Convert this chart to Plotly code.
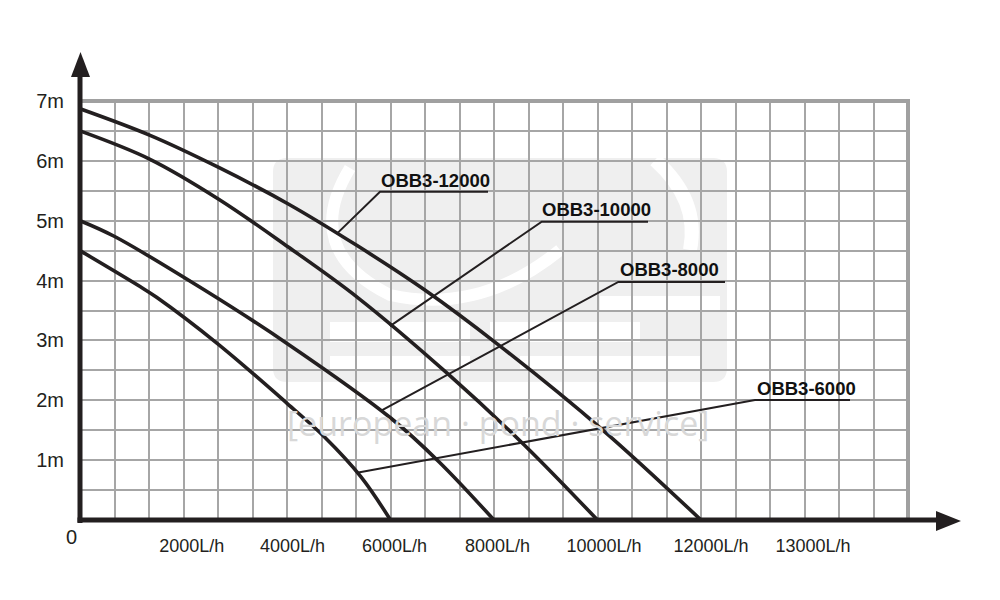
import plotly.graph_objects as go

# ---------------- data ----------------
flow_6000 = [0, 1160, 1480, 2650, 4000, 4720, 5430, 6000]
head_6000 = [4.50, 3.90, 3.72, 2.95, 1.95, 1.39, 0.72, 0.0]

flow_8000 = [0, 660, 2390, 4000, 6010, 6940, 8000]
head_8000 = [5.00, 4.74, 3.85, 2.95, 1.70, 0.97, 0.0]

flow_10000 = [0, 1343, 2680, 4025, 5360, 7110, 8590, 10000]
head_10000 = [6.50, 6.03, 5.36, 4.56, 3.72, 2.44, 1.25, 0.0]

flow_12000 = [0, 1343, 2680, 4025, 5362, 6650, 8080, 10080, 12000]
head_12000 = [6.87, 6.43, 5.89, 5.28, 4.58, 3.85, 2.93, 1.52, 0.0]

series_names = ["OBB3-6000", "OBB3-8000", "OBB3-10000", "OBB3-12000"]

x_tick_vals = [2158, 4106, 6077, 8068, 10126, 12193, 14164]
x_tick_text = ["2000L/h", "4000L/h", "6000L/h", "8000L/h", "10000L/h", "12000L/h", "13000L/h"]
y_tick_vals = [1, 2, 3, 4, 5, 6, 7]
y_tick_text = ["1m", "2m", "3m", "4m", "5m", "6m", "7m"]

# leader lines: point on curve -> elbow -> end of underline (data units)
leader_12000 = ([4960, 5797, 7884], [4.78, 5.484, 5.484])
leader_10000 = ([5990, 8922, 10976], [3.24, 4.983, 4.983])
leader_8000 = ([5830, 10402, 12464], [1.83, 3.977, 3.977])
leader_6000 = ([5353, 13043, 14879], [0.79, 2.005, 2.005])
label_pos = {  # left edge, vertical centre of label
    "OBB3-12000": (5778, 5.68),
    "OBB3-10000": (8890, 5.18),
    "OBB3-8000": (10402, 4.19),
    "OBB3-6000": (13043, 2.19),
}

X_MAX, Y_MAX = 16000, 7
INK = "#231f20"
GRID = "#a6a6a6"

# figure geometry (pixels)
W, H = 1000, 600
ML, MR, MT, MB = 80, 92, 101, 80
PW, PH = W - ML - MR, H - MT - MB


def px_x(p):  # pixel -> paper x
    return (p - ML) / PW


def px_y(p):  # pixel -> paper y
    return (H - MB - p) / PH


fig = go.Figure()

curves = [(flow_6000, head_6000), (flow_8000, head_8000),
          (flow_10000, head_10000), (flow_12000, head_12000)]
for name, (fx, hy) in zip(series_names, curves):
    fig.add_trace(go.Scatter(x=fx, y=hy, mode="lines", name=name,
                             line=dict(color=INK, width=3.6, shape="spline", smoothing=1.0),
                             hoverinfo="x+y+name", cliponaxis=False))

for lx, ly in [leader_12000, leader_10000, leader_8000, leader_6000]:
    fig.add_trace(go.Scatter(x=lx, y=ly, mode="lines", showlegend=False,
                             line=dict(color=INK, width=2), hoverinfo="skip",
                             cliponaxis=False))

annotations = []
for name, (ax_, ay_) in label_pos.items():
    annotations.append(dict(x=ax_, y=ay_, xref="x", yref="y", text="<b>" + name + "</b>",
                            showarrow=False, xanchor="left", yanchor="middle",
                            font=dict(family="Liberation Sans, Arial, sans-serif", size=18.5, color="#111111")))

# origin label
annotations.append(dict(x=px_x(71), y=px_y(537), xref="paper", yref="paper", text="0",
                        showarrow=False, xanchor="center", yanchor="middle",
                        font=dict(family="Liberation Sans, Arial, sans-serif", size=20, color=INK)))

# watermark text
annotations.append(dict(x=px_x(498), y=px_y(423), xref="paper", yref="paper",
                        text="[european · pond · service]", showarrow=False,
                        xanchor="center", yanchor="middle",
                        font=dict(family="Open Sans, sans-serif", size=34, color="#d8d8d8")))

shapes = []
# watermark block
x0, x1, y0, y1 = px_x(273), px_x(727), px_y(382), px_y(158)
rx = 14 / PW
ry = 14 / PH
shapes.append(dict(type="path", xref="paper", yref="paper", layer="below",
                   path=(f"M {x0+rx} {y0} L {x1-rx} {y0} Q {x1} {y0} {x1} {y0+ry} "
                         f"L {x1} {y1-ry} Q {x1} {y1} {x1-rx} {y1} L {x0+rx} {y1} "
                         f"Q {x0} {y1} {x0} {y1-ry} L {x0} {y0+ry} Q {x0} {y0} {x0+rx} {y0} Z"),
                   fillcolor="#efefef", line=dict(width=0)))
# white swoosh and letter strokes inside watermark
shapes.append(dict(type="path", xref="paper", yref="paper", layer="below",
                   path=(f"M {px_x(350)} {px_y(168)} Q {px_x(300)} {px_y(250)} {px_x(390)} {px_y(295)} "
                         f"Q {px_x(480)} {px_y(315)} {px_x(560)} {px_y(250)}"),
                   line=dict(color="white", width=12)))
shapes.append(dict(type="path", xref="paper", yref="paper", layer="below",
                   path=(f"M {px_x(655)} {px_y(160)} Q {px_x(700)} {px_y(200)} {px_x(690)} {px_y(250)}"),
                   line=dict(color="white", width=14)))
for (a, b, c, d) in [(330, 470, 322, 342), (330, 470, 356, 370), (490, 640, 322, 342),
                     (520, 700, 356, 370), (600, 720, 296, 310)]:
    shapes.append(dict(type="rect", xref="paper", yref="paper", layer="below",
                       x0=px_x(a), x1=px_x(b), y0=px_y(d), y1=px_y(c),
                       fillcolor="white", line=dict(width=0)))

# grey frame of the grid
shapes.append(dict(type="rect", xref="paper", yref="paper", x0=0, x1=1, y0=0, y1=1,
                   line=dict(color="#a0a0a0", width=4), layer="above"))
# black axes with arrows
shapes.append(dict(type="line", xref="paper", yref="paper", x0=0, x1=0,
                   y0=px_y(523), y1=px_y(74), line=dict(color=INK, width=5)))
shapes.append(dict(type="line", xref="paper", yref="paper", x0=px_x(77.5), x1=px_x(940),
                   y0=0, y1=0, line=dict(color=INK, width=5)))
shapes.append(dict(type="path", xref="paper", yref="paper",
                   path=f"M {px_x(80.5)} {px_y(52)} L {px_x(90)} {px_y(77)} L {px_x(71)} {px_y(77)} Z",
                   fillcolor=INK, line=dict(width=0)))
shapes.append(dict(type="path", xref="paper", yref="paper",
                   path=f"M {px_x(961)} {px_y(521)} L {px_x(936)} {px_y(511)} L {px_x(936)} {px_y(531)} Z",
                   fillcolor=INK, line=dict(width=0)))

fig.update_layout(
    width=W, height=H, template="none",
    margin=dict(l=ML, r=MR, t=MT, b=MB, pad=0),
    paper_bgcolor="white", plot_bgcolor="white",
    showlegend=False,
    annotations=annotations, shapes=shapes,
    xaxis=dict(range=[0, X_MAX], showline=False, zeroline=False, showgrid=False,
               tickmode="array", tickvals=x_tick_vals, ticktext=x_tick_text,
               ticks="outside", ticklen=9, tickcolor="rgba(0,0,0,0)", automargin=False,
               tickfont=dict(family="Liberation Sans, Arial, sans-serif", size=18, color=INK),
               minor=dict(tickmode="linear", tick0=0, dtick=2000 / 3, showgrid=True,
                          gridcolor=GRID, gridwidth=2, ticks="")),
    yaxis=dict(range=[0, Y_MAX], showline=False, zeroline=False, showgrid=True,
               gridcolor=GRID, gridwidth=2,
               tickmode="array", tickvals=y_tick_vals, ticktext=y_tick_text,
               ticks="outside", ticklen=11, tickcolor="rgba(0,0,0,0)", automargin=False,
               tickfont=dict(family="Liberation Sans, Arial, sans-serif", size=20, color=INK),
               minor=dict(tickmode="linear", tick0=0, dtick=0.5, showgrid=True,
                          gridcolor=GRID, gridwidth=2, ticks="")),
)

fig.write_html("out.html", config={"displayModeBar": False},
               post_script="document.body.style.margin='0px';document.body.style.padding='0px';")
